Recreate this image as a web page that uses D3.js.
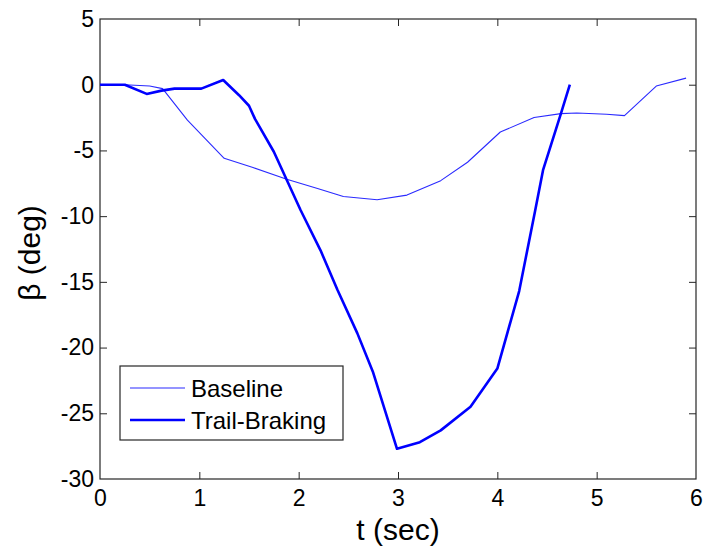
<!DOCTYPE html>
<html>
<head>
<meta charset="utf-8">
<script src="https://cdn.jsdelivr.net/npm/d3@7"></script>
<style>
  html, body { margin: 0; padding: 0; background: #fff; }
  svg { display: block; }
  text { font-family: "Liberation Sans", Arial, sans-serif; fill: #000; }
</style>
</head>
<body>
<svg id="chart" width="706" height="548"></svg>
<script>
// Sideslip angle over time for the two manoeuvres
const baselineT = [0, 0.25, 0.5, 0.63, 0.88, 1.25, 1.54, 1.88, 2.19, 2.45, 2.79, 3.09, 3.43, 3.70, 4.03, 4.37, 4.64, 4.80, 5.10, 5.28, 5.60, 5.90];
const baselineBeta = [0, 0, -0.1, -0.3, -2.7, -5.6, -6.3, -7.2, -7.9, -8.5, -8.75, -8.4, -7.3, -5.9, -3.6, -2.5, -2.2, -2.15, -2.25, -2.35, -0.1, 0.5];

const trailT = [0, 0.25, 0.47, 0.62, 0.75, 1.02, 1.24, 1.40, 1.50, 1.56, 1.75, 2.02, 2.22, 2.39, 2.59, 2.75, 2.99, 3.22, 3.43, 3.73, 4.00, 4.22, 4.38, 4.46, 4.64, 4.73];
const trailBeta = [0, 0, -0.7, -0.45, -0.3, -0.3, 0.36, -0.8, -1.6, -2.6, -5.1, -9.55, -12.6, -15.6, -18.9, -21.9, -27.7, -27.2, -26.3, -24.5, -21.6, -15.7, -9.6, -6.5, -2.2, 0];

const xTicks = [0, 1, 2, 3, 4, 5, 6];
const yTicks = [5, 0, -5, -10, -15, -20, -25, -30];
const legendLabels = ["Baseline", "Trail-Braking"];

const svg = d3.select("#chart");
const plotLeft = 100, plotRight = 696, plotTop = 19, plotBottom = 479;

const x = d3.scaleLinear().domain([0, 6]).range([plotLeft, plotRight]);
const y = d3.scaleLinear().domain([-30, 5]).range([plotBottom, plotTop]);

const axisColor = "#262626";
const tickLen = 7;
const plainNumber = d => String(d); // keeps an ASCII hyphen for negatives

// axes: ticks drawn inward on all four sides
const gB = svg.append("g").attr("transform", `translate(0,${plotBottom})`)
  .call(d3.axisBottom(x).tickValues(xTicks).tickSizeInner(-tickLen).tickSizeOuter(0).tickPadding(11).tickFormat(plainNumber));
const gT = svg.append("g").attr("transform", `translate(0,${plotTop})`)
  .call(d3.axisTop(x).tickValues(xTicks).tickSizeInner(-tickLen).tickSizeOuter(0).tickFormat(""));
const gL = svg.append("g").attr("transform", `translate(${plotLeft},0)`)
  .call(d3.axisLeft(y).tickValues(yTicks).tickSizeInner(-tickLen).tickSizeOuter(0).tickPadding(6).tickFormat(plainNumber));
const gR = svg.append("g").attr("transform", `translate(${plotRight},0)`)
  .call(d3.axisRight(y).tickValues(yTicks).tickSizeInner(-tickLen).tickSizeOuter(0).tickFormat(""));

[gB, gT, gL, gR].forEach(g => {
  g.select(".domain").remove();
  g.selectAll(".tick line").attr("stroke", axisColor).attr("stroke-width", 1);
  g.selectAll(".tick text")
    .style("font-family", '"Liberation Sans", Arial, sans-serif')
    .style("font-size", "23px")
    .attr("fill", "#000");
});
// drop the end ticks that overlap the frame
[gB, gT].forEach(g => g.selectAll(".tick line").filter(d => d === 0 || d === 6).remove());
[gL, gR].forEach(g => g.selectAll(".tick line").filter(d => d === 5 || d === -30).remove());

svg.append("rect")
  .attr("x", plotLeft).attr("y", plotTop)
  .attr("width", plotRight - plotLeft).attr("height", plotBottom - plotTop)
  .attr("fill", "none").attr("stroke", axisColor).attr("stroke-width", 1.2);

// series
const line = d3.line().x(d => x(d[0])).y(d => y(d[1]));
const baseData = baselineT.map((t, i) => [t, baselineBeta[i]]);
const trailData = trailT.map((t, i) => [t, trailBeta[i]]);

svg.append("path").datum(baseData)
  .attr("d", line).attr("fill", "none")
  .attr("stroke", "#2a2aff").attr("stroke-width", 1.1).attr("stroke-linejoin", "round");
svg.append("path").datum(trailData)
  .attr("d", line).attr("fill", "none")
  .attr("stroke", "#0000ff").attr("stroke-width", 2.6).attr("stroke-linejoin", "round");

// axis titles
svg.append("text")
  .attr("x", (plotLeft + plotRight) / 2).attr("y", 540)
  .attr("text-anchor", "middle")
  .style("font-size", "30px")
  .text("t (sec)");
svg.append("text")
  .attr("transform", `translate(40,${(plotTop + plotBottom) / 2 + 4}) rotate(-90)`)
  .attr("text-anchor", "middle")
  .style("font-size", "30px")
  .text("β (deg)");

// legend
const lg = svg.append("g");
lg.append("rect")
  .attr("x", 120).attr("y", 366).attr("width", 223).attr("height", 74)
  .attr("fill", "#fff").attr("stroke", axisColor).attr("stroke-width", 1.2);
const legendStyles = [
  { color: "#2a2aff", width: 1.1 },
  { color: "#0000ff", width: 2.6 }
];
legendLabels.forEach((label, i) => {
  const ly = 388 + i * 32;
  lg.append("line")
    .attr("x1", 130).attr("x2", 185).attr("y1", ly).attr("y2", ly)
    .attr("stroke", legendStyles[i].color).attr("stroke-width", legendStyles[i].width);
  lg.append("text")
    .attr("x", 191).attr("y", ly)
    .attr("dominant-baseline", "central")
    .style("font-size", "24px")
    .text(label);
});
</script>
</body>
</html>
